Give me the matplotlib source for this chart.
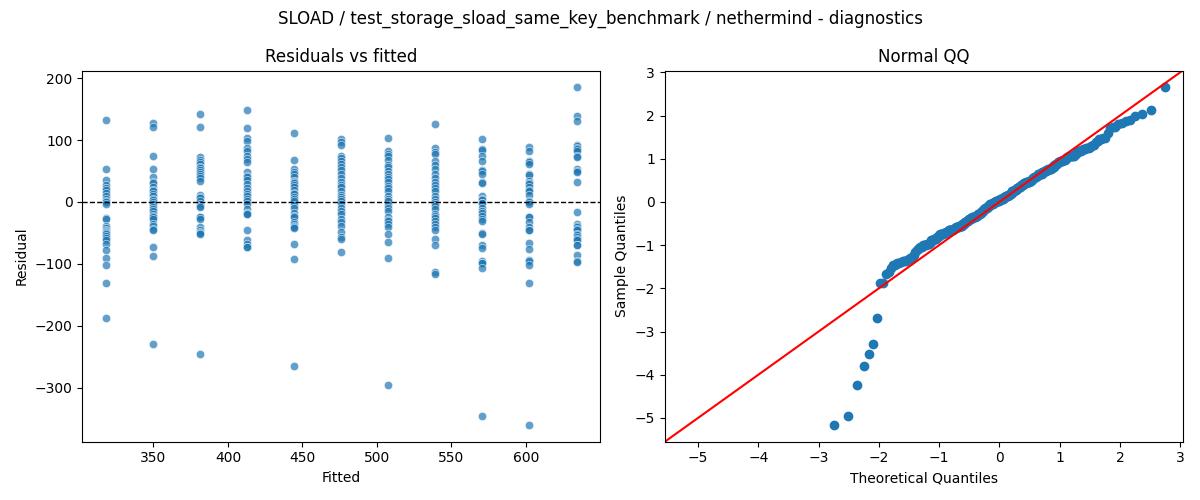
import matplotlib
matplotlib.use('Agg')
import matplotlib.pyplot as plt
import numpy as np
import seaborn as sns
from statistics import NormalDist

# fitted levels (x positions of the residual columns)
fitted_levels = [318.0, 349.6, 381.2, 412.8, 444.4, 476.0, 507.6, 539.2, 570.8, 602.4, 634.0]

# residuals
res_318 = [132, 53, 35, 27, 22, 20, 15, 10, 5, 2, 0, -3, -26, -28, -38, -42, -45, -47, -48, -50,
           -52, -55, -58, -62, -68, -78, -90, -101, -131, -187]
res_350 = [128, 121, 74, 53, 41, 33, 30, 24, 20, 17, 13, 9, 5, 3, 0, -3, -8, -12, -15, -19,
           -22, -25, -28, -35, -39, -44, -46, -72, -88, -230]
res_381 = [142, 121, 73, 68, 65, 62, 57, 55, 52, 48, 45, 42, 38, 34, 11, 8, 6, 2, -4, -6,
           -8, -24, -25, -27, -41, -45, -48, -50, -52, -246]
res_413 = [148, 119, 103, 98, 87, 82, 74, 70, 64, 48, 42, 40, 35, 29, 22, 18, 13, 9, 5, 2,
           -4, -11, -17, -20, -20, -46, -62, -68, -72, -73]
res_444 = [111, 68, 53, 49, 45, 40, 34, 32, 30, 28, 24, 19, 15, 13, 8, 5, 2, -5, -9, -17,
           -22, -25, -33, -35, -38, -40, -42, -68, -92, -265]
res_476 = [102, 97, 92, 75, 71, 66, 61, 56, 51, 45, 39, 33, 28, 24, 17, 11, 8, 5, 2, -3,
           -9, -14, -20, -27, -32, -38, -48, -57, -60, -81]
res_508 = [103, 83, 78, 74, 68, 60, 56, 50, 45, 41, 37, 32, 26, 22, 18, 10, 5, 2, -5, -10,
           -15, -25, -29, -30, -35, -40, -51, -65, -90, -296]
res_539 = [126, 87, 80, 78, 67, 60, 53, 45, 38, 32, 28, 23, 17, 10, 5, 0, -3, -6, -12, -19,
           -22, -26, -31, -35, -41, -46, -60, -69, -113, -117]
res_571 = [102, 86, 84, 74, 67, 52, 50, 45, 33, 30, 9, 5, 3, -1, -2, -9, -14, -18, -23, -28,
           -31, -50, -52, -70, -74, -96, -98, -99, -106, -345]
res_602 = [89, 83, 67, 64, 61, 46, 44, 34, 30, 29, 24, 20, 17, 12, 2, 0, -3, -24, -25, -33,
           -41, -45, -46, -67, -76, -94, -95, -101, -131, -360]
res_634 = [185, 139, 131, 92, 90, 87, 85, 83, 75, 73, 53, 50, 48, 32, -16, -35, -38, -41, -44, -46,
           -51, -53, -56, -60, -62, -69, -70, -86, -95, -97]

columns = [res_318, res_350, res_381, res_413, res_444, res_476,
           res_508, res_539, res_571, res_602, res_634]

fitted = np.concatenate([[f] * len(c) for f, c in zip(fitted_levels, columns)])
resid = np.concatenate([np.array(c, dtype=float) for c in columns])

fig, axes = plt.subplots(1, 2, figsize=(12, 5), dpi=100)

# residuals vs fitted
ax = axes[0]
sns.scatterplot(x=fitted, y=resid, alpha=0.7, ax=ax)
ax.axhline(0, color='black', linestyle='--', linewidth=1)
ax.set_title('Residuals vs fitted')
ax.set_xlabel('Fitted')
ax.set_ylabel('Residual')

# normal QQ (standardised residuals, 45 degree line)
ax = axes[1]
n = len(resid)
nd = NormalDist()
theo = np.array([nd.inv_cdf(i / (n + 1)) for i in range(1, n + 1)])
sample = np.sort((resid - resid.mean()) / resid.std())
ax.plot(theo, sample, 'o', color='C0', markersize=6)
xlim = ax.get_xlim()
ylim = ax.get_ylim()
end_pts = [min(xlim[0], ylim[0]), max(xlim[1], ylim[1])]
ax.plot(end_pts, end_pts, color='red', linewidth=1.5)
ax.set_xlim(end_pts)
ax.set_ylim(end_pts)
ax.set_title('Normal QQ')
ax.set_xlabel('Theoretical Quantiles')
ax.set_ylabel('Sample Quantiles')

fig.suptitle('SLOAD / test_storage_sload_same_key_benchmark / nethermind - diagnostics')
plt.tight_layout()
plt.savefig('out.png', dpi=100)
plt.close()
